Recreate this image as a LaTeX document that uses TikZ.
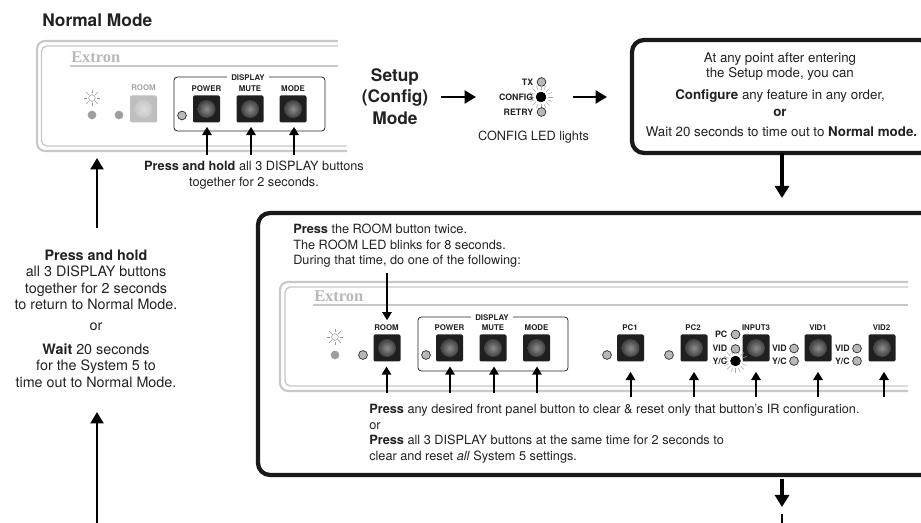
\documentclass[tikz,border=0pt]{standalone}
\usepackage{fontspec}
\setmainfont{TeX Gyre Heros}
\newfontfamily\logofont{Liberation Serif}
\usetikzlibrary{arrows.meta,calc}
\definecolor{ink}{HTML}{222222}
\definecolor{panelgrey}{HTML}{C8C8C8}
\definecolor{ledgrey}{HTML}{B8B8B8}
\tikzset{
  body/.style={font=\fontsize{9.55}{11.7}\selectfont,text=ink,inner sep=0pt,align=center},
  bodybig/.style={body,font=\fontsize{10}{11.4}\selectfont},
  bodyside/.style={body,font=\fontsize{10.75}{12.35}\selectfont},
  bodyleft/.style={body,align=left,anchor=north west},
  title/.style={font=\bfseries\fontsize{13}{16.2}\selectfont,text=ink,inner sep=0pt,align=center},
  tiny/.style={font=\bfseries\fontsize{5.9}{7}\selectfont,text=ink,inner sep=0pt},
  ledlabel/.style={font=\bfseries\fontsize{6.6}{7}\selectfont,text=ink,inner sep=0pt,anchor=east},
  fpbutton/.style={draw=none,fill=black!88,rounded corners=1pt,minimum size=20.25pt,inner sep=0pt},
  fadedbutton/.style={draw=none,fill=black!25,rounded corners=1pt,minimum size=20.25pt,inner sep=0pt},
  led/.style={circle,draw=black!85,line width=0.5pt,fill=ledgrey,minimum size=6.6pt,inner sep=0pt},
  fadedled/.style={circle,draw=none,fill=black!38,minimum size=6.5pt,inner sep=0pt},
  litled/.style={circle,draw=black,fill=black,minimum size=7.4pt,inner sep=0pt},
  bigbox/.style={draw=black!90,line width=3.2pt,rounded corners=9pt,fill=white,inner sep=0pt,outer sep=0pt},
  displaybox/.style={draw=black!85,line width=0.6pt,rounded corners=2.5pt},
  thinarrow/.style={draw=black,line width=1.5pt,-{Triangle[width=7pt,length=6.2pt]}},
  midarrow/.style={draw=black,line width=2.1pt,-{Triangle[width=9.5pt,length=8.5pt]}},
  heavyarrow/.style={draw=black,line width=2.8pt,-{Triangle[width=10.5pt,length=9pt]}},
  panelline/.style={draw=panelgrey,line width=1.6pt},
  panelthin/.style={draw=panelgrey,line width=1pt},
}
\newcommand{\fpbtn}[3]{\node[fpbutton] (#1) at (#2,#3) {};
  \shade[inner color=black!45,outer color=black!75] (#1.center) circle (6.7pt);}
\newcommand{\sunicon}[3]{\node[circle,draw=black!40,line width=0.4pt,minimum size=5pt,inner sep=0pt] (#1) at (#2,#3) {};
  \foreach \a in {0,45,...,315}{\draw[black!40,line width=0.4pt] ($(#1.center)+(\a:3.4pt)$) -- ($(#1.center)+(\a:6.2pt)$);}}
\newcommand{\litrays}[1]{\foreach \a in {0,22.5,...,337.5}{\draw[black!35,line width=0.35pt] ($(#1.center)+(\a:5.4pt)$) -- ($(#1.center)+(\a:9pt)$);}}
\begin{document}
\begin{tikzpicture}[x=0.75pt,y=-0.75pt]
\useasboundingbox (0,0) rectangle (921,523);

\node[title,anchor=west] (normal) at (42,20.5) {Normal Mode};

% Panel 1
\draw[panelline,rounded corners=6pt] (338,41) -- (37,41) -- (37,151) -- (347,151);
\draw[panelthin,rounded corners=4pt] (338,46) -- (41.5,46) -- (41.5,146) -- (347,146);
\draw[panelline] (70,66) -- (338,66);
\node[font=\logofont\bfseries\fontsize{12.3}{14}\selectfont,text=black!28,inner sep=0pt,anchor=west] (logoa) at (71,57) {Extron};
\sunicon{sunA}{92}{98}
\node[fadedled] (ledsunA) at (92,115) {};
\node[fadedled] (ledroomA) at (119,115) {};
\node[fadedbutton] (roomA) at (143.5,109) {};
\shade[inner color=black!13,outer color=black!22] (roomA.center) circle (6.7pt);
\node[tiny,text=black!35] (roomAl) at (143.5,88) {ROOM};
\draw[displaybox] (174,77) rectangle (325,131);
\node[tiny,fill=white,inner xsep=3pt,inner ysep=0.5pt] (dispA) at (248,78) {DISPLAY};
\fpbtn{powerA}{206.5}{109}
\fpbtn{muteA}{250}{109}
\fpbtn{modeA}{293}{109}
\node[tiny] (powerAl) at (206.5,89) {POWER};
\node[tiny] (muteAl) at (250,89) {MUTE};
\node[tiny] (modeAl) at (293,89) {MODE};
\node[led] (ledA) at (182,115.5) {};
\coordinate (pa) at (207,155);
\coordinate (ma) at (251,155);
\coordinate (oa) at (294,155);
\draw[thinarrow,shorten >=3pt] (pa) -- (pa |- powerA.south);
\draw[thinarrow,shorten >=3pt] (ma) -- (ma |- muteA.south);
\draw[thinarrow,shorten >=3pt] (oa) -- (oa |- modeA.south);
\node[body] (holdA) at (254,175) {\textbf{Press and hold} all 3 DISPLAY buttons\\together for 2 seconds.};

% Setup
\node[title] (setup) at (395,96.5) {Setup\\(Config)\\Mode};
\node[led] (ledtx) at (541.5,82) {};
\node[litled] (ledcfg) at (541,97) {};
\litrays{ledcfg}
\node[led] (ledretry) at (541.5,112) {};
\node[ledlabel] (ltx) at (533.5,82) {TX};
\node[ledlabel] (lcfg) at (533.5,97) {CONFIG};
\node[ledlabel] (lretry) at (533.5,112) {RETRY};
\node[body] (cfglights) at (533.5,137) {CONFIG LED lights};
\coordinate (s1) at (441,97);
\coordinate (s2) at (476,97);
\coordinate (s3) at (573,97);
\coordinate (s4) at (607,97);
\draw[midarrow] (s1) -- (s2);
\draw[midarrow] (s3) -- (s4);

% Config box
\node[bigbox,minimum width=225pt,minimum height=84.75pt,anchor=north west] (cfgbox) at (632,40) {};
\node[bodybig] (ca) at (780,66.5) {At any point after entering\\the Setup mode, you can};
\node[bodybig] (cb) at (780,96) {\textbf{Configure} any feature in any order,};
\node[bodybig] (cc) at (780,113) {\textbf{or}};
\node[bodybig] (cd) at (781.5,132) {Wait 20 seconds to time out to \textbf{Normal mode.}};
\coordinate (cbot) at (782,153);
\coordinate (cend) at (782,198);
\draw[heavyarrow] (cbot) -- (cend);

% Big box
\node[bigbox,minimum width=510pt,minimum height=196.5pt,anchor=north west] (bigb) at (258,213) {};
\node[bodyleft] (ba) at (293,224) {\textbf{Press} the ROOM button twice.\\The ROOM LED blinks for 8 seconds.\\During that time, do one of the following:};

% Panel 2
\draw[panelline,rounded corners=6pt] (908,282) -- (280,282) -- (280,391) -- (908,391);
\draw[panelthin,rounded corners=4pt] (908,287) -- (285,287) -- (285,386) -- (908,386);
\draw[panelline] (313,305) -- (908,305);
\node[font=\logofont\bfseries\fontsize{12.3}{14}\selectfont,text=black!28,inner sep=0pt,anchor=west] (logob) at (314,296.5) {Extron};
\sunicon{sunB}{335}{337}
\node[fadedled] (ledsunB) at (335,355) {};
\node[led] (ledroomB) at (363,355) {};
\fpbtn{roomB}{387}{348}
\node[tiny] (roomBl) at (386.5,327.5) {ROOM};
\draw[displaybox] (418,317) rectangle (568,371);
\node[tiny,fill=white,inner xsep=3pt,inner ysep=0.5pt] (dispB) at (492,318) {DISPLAY};
\fpbtn{powerB}{449.5}{348}
\fpbtn{muteB}{493}{348}
\fpbtn{modeB}{536.5}{348}
\node[tiny] (powerBl) at (449.5,328) {POWER};
\node[tiny] (muteBl) at (493,328) {MUTE};
\node[tiny] (modeBl) at (536.5,328) {MODE};
\node[led] (ledB) at (426,355) {};
\fpbtn{pcone}{630.5}{348}
\node[tiny] (pconel) at (630,328) {PC1};
\node[led] (ledpcone) at (607,355) {};
\fpbtn{pctwo}{694}{348}
\node[tiny] (pctwol) at (693,328) {PC2};
\node[led] (ledpctwo) at (669,355) {};
\fpbtn{inthree}{756}{348}
\node[tiny] (inthreel) at (756,328) {INPUT3};
\node[led] (ledi1) at (735.5,334.5) {};
\node[led] (ledi2) at (735.5,349) {};
\node[litled] (ledi3) at (735.5,361) {};
\litrays{ledi3}
\node[ledlabel] (li1) at (727.5,334.5) {PC};
\node[ledlabel] (li2) at (727.5,348) {VID};
\node[ledlabel] (li3) at (727.5,361) {Y/C};
\fpbtn{vidone}{818}{348}
\node[tiny] (vidonel) at (818,328) {VID1};
\node[led] (ledv1a) at (794,348.5) {};
\node[led] (ledv1b) at (794,361) {};
\node[ledlabel] (lv1a) at (787,348) {VID};
\node[ledlabel] (lv1b) at (787,361) {Y/C};
\fpbtn{vidtwo}{882}{348}
\node[tiny] (vidtwol) at (881.5,328) {VID2};
\node[led] (ledv2a) at (857,348.5) {};
\node[led] (ledv2b) at (857,361) {};
\node[ledlabel] (lv2a) at (850,348) {VID};
\node[ledlabel] (lv2b) at (850,361) {Y/C};

% arrows in big box
\coordinate (rt) at (387,273);
\draw[thinarrow,shorten >=3pt] (rt) -- (rt |- roomBl.north);
\foreach \n/\x/\t in {rb/386.5/roomB,pb/450/powerB,mb/494/muteB,ob/537/modeB}{
  \coordinate (\n) at (\x,393);
  \draw[thinarrow,shorten >=3.5pt] (\n) -- (\n |- \t.south);
}
\foreach \n/\x/\t in {p1/630.5/pcone,p2/694/pctwo,i3/756/inthree,v1/818/vidone,v2/884/vidtwo}{
  \coordinate (\n) at (\x,397);
  \draw[thinarrow,shorten >=7.5pt] (\n) -- (\n |- \t.south);
}
\node[bodyleft] (bb) at (369,404) {\textbf{Press} any desired front panel button to clear \& reset only that button's IR configuration.\\or\\\textbf{Press} all 3 DISPLAY buttons at the same time for 2 seconds to\\clear and reset \textit{all} System 5 settings.};

% exit arrow
\coordinate (ex1) at (782,479);
\coordinate (ex2) at (782,507);
\coordinate (ex3) at (782,514);
\coordinate (ex4) at (782,523);
\draw[heavyarrow] (ex1) -- (ex2);
\draw[draw=black,line width=1.5pt] (ex3) -- (ex4);

% Left column
\node[bodyside] (la) at (96,280) {\textbf{Press and hold}\\all 3 DISPLAY buttons\\together for 2 seconds\\to return to Normal Mode.};
\node[bodyside] (lb) at (96,327) {or};
\node[bodyside] (lc) at (96,365.5) {\textbf{Wait} 20 seconds\\for the System 5 to\\time out to Normal Mode.};
\coordinate (up1) at (97,228);
\coordinate (up2) at (97,158);
\coordinate (up3) at (97,523);
\coordinate (up4) at (97,412);
\draw[midarrow] (up1) -- (up2);
\draw[midarrow] (up3) -- (up4);
\end{tikzpicture}
\end{document}
